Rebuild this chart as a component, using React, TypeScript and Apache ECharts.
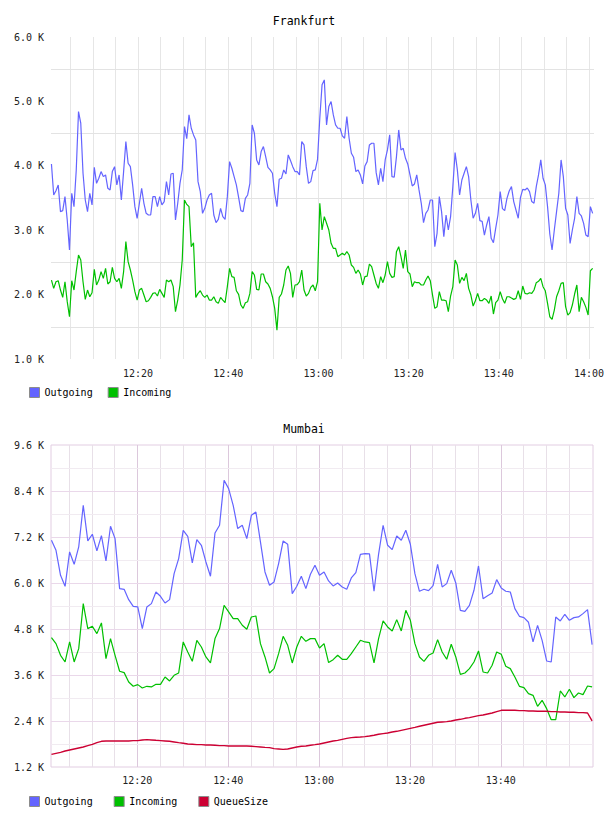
import React, { useEffect, useRef } from 'react';
import * as echarts from 'echarts';

const FONT = '"DejaVu Sans Mono", "Liberation Mono", monospace';

// ---- Frankfurt: one sample every 30 s, first at 12:00:48 (minutes after 12:00)
const frankfurtStart = 0.8;
const frankfurtStep = 0.5;
const frankfurtOutgoing = [
  4029, 3547, 3614, 3703, 3288, 3304, 3521, 3159, 2692, 3573,
  3366, 3936, 4842, 4661, 3884, 3469, 3288, 3573, 3392, 3977,
  3728, 3806, 3910, 3832, 3858, 3651, 3625, 3910, 3987, 3703,
  3858, 3469, 3910, 4376, 4039, 3987, 3703, 3366, 3185, 3418,
  3651, 3418, 3262, 3236, 3236, 3521, 3521, 3366, 3521, 3392,
  3444, 3754, 3547, 3873, 3884, 3159, 3418, 3728, 3936, 4609,
  4420, 4790, 4583, 4480, 4402, 3754, 3599, 3262, 3340, 3469,
  3547, 3573, 3236, 3117, 3169, 3340, 3210, 3169, 3521, 4065,
  3962, 3832, 3703, 3511, 3304, 3288, 3495, 3547, 3728, 4635,
  4505, 4091, 4013, 4221, 4298, 4143, 3977, 3936, 3884, 3573,
  3366, 3791, 3806, 3936, 3873, 4169, 4081, 3987, 3910, 3910,
  3858, 4376, 4324, 3987, 3728, 3754, 3925, 3936, 4101, 4739,
  5257, 5334, 4635, 4920, 4998, 4790, 4635, 4583, 4583, 4464,
  4428, 4764, 4428, 4195, 4132, 3910, 3936, 3858, 3718, 3998,
  4065, 4324, 4350, 4350, 3894, 3703, 3962, 3754, 4091, 4246,
  4480, 3832, 3822, 4143, 4557, 4246, 4272, 4117, 4029, 3858,
  3687, 3718, 3858, 3625, 3418, 3117, 3262, 3314, 3469, 3469,
  2744, 2951, 3521, 3288, 2900, 3236, 3003, 3210, 3677, 4205,
  3936, 3547, 3780, 3884, 3987, 3832, 3469, 3185, 3262, 3418,
  3148, 3138, 2925, 3081, 3210, 2874, 2806, 3029, 3236, 3599,
  3335, 3304, 3495, 3609, 3677, 3444, 3314, 3185, 3511, 3635,
  3625, 3656, 3599, 3444, 3418, 3677, 3858, 4091, 3806, 3703,
  3366, 2941, 2692, 3003, 3288, 3573, 4091, 3832, 3340, 3236,
  2796, 3003, 3185, 3521, 3262, 3221, 3107, 2925, 2900, 3366, 3262,
];
const frankfurtIncoming = [
  2226, 2097, 2200, 2216, 2071, 1957, 2200, 1890, 1656, 2216,
  2071, 2356, 2615, 2537, 2200, 1926, 2071, 1967, 2029, 2392,
  2149, 2226, 2356, 2252, 2407, 2164, 2200, 2423, 2252, 2200,
  2252, 2097, 2356, 2822, 2511, 2382, 2226, 2045, 1915, 2071,
  2097, 1993, 1890, 1905, 1957, 2019, 2029, 1978, 2081, 2019,
  1957, 2226, 2200, 2226, 2123, 1734, 1915, 2149, 2537, 3469,
  3400, 3366, 2744, 2806, 1957, 2019, 2060, 1993, 1957, 1993,
  1915, 1915, 1967, 1890, 1864, 1957, 1915, 1874, 2123, 2407,
  2278, 2268, 2060, 2003, 1838, 1786, 1874, 1890, 2019, 2356,
  2304, 2081, 2071, 2320, 2320, 2200, 2164, 2097, 1967, 1786,
  1449, 1957, 2009, 2149, 2382, 2444, 2330, 1957, 2149, 2154,
  2200, 2382, 2071, 1978, 2019, 2112, 2149, 2060, 2200, 3418,
  3003, 3210, 3107, 3003, 2796, 2718, 2718, 2589, 2615, 2641,
  2615, 2667, 2615, 2459, 2423, 2330, 2382, 2320, 2149, 2278,
  2288, 2475, 2433, 2304, 2174, 2097, 2278, 2185, 2304, 2511,
  2330, 2268, 2278, 2667, 2744, 2589, 2407, 2692, 2356, 2320,
  2123, 2200, 2185, 2185, 2149, 2149, 2226, 2288, 2216, 1993,
  1786, 1812, 2045, 1915, 1915, 1905, 1734, 1978, 2123, 2537,
  2459, 2174, 2268, 2216, 2330, 2097, 1993, 1822, 1905, 2019,
  1905, 1905, 1941, 1915, 1864, 1978, 1698, 1874, 1915, 2045,
  1936, 1864, 1967, 1967, 1946, 1926, 1941, 2060, 1926, 2133,
  2019, 2009, 2029, 2019, 2071, 2185, 2206, 2252, 2123, 2060,
  1864, 1656, 1615, 1760, 1967, 2060, 2174, 2185, 1812, 1682,
  1719, 1838, 2009, 2149, 1734, 1957, 1890, 1802, 1682, 2371, 2407,
];

// ---- Mumbai: one sample per minute, first at 12:01:06
const mumbaiStart = 1.1;
const mumbaiStep = 1;
const mumbaiOutgoing = [
  7114, 6853, 6201, 5914, 6810, 6488, 6940, 8027, 7097, 7271,
  6836, 7236, 6575, 7480, 7158, 5853, 5836, 5566, 5392, 5375,
  4809, 5375, 5462, 5766, 5653, 5479, 5566, 6244, 6636, 7375,
  7219, 6523, 7132, 6984, 6549, 6175, 7306, 7506, 8682, 8462,
  8027, 7419, 7506, 7158, 7767, 7853, 7071, 6288, 5940, 6027,
  6506, 7097, 7010, 5723, 5914, 6175, 5853, 6227, 6462, 6201,
  6288, 6053, 5923, 6001, 5897, 5836, 6131, 6270, 6749, 6766,
  6758, 5784, 6749, 7506, 6984, 6871, 7227, 7114, 7375, 7010,
  6244, 5784, 5836, 5801, 5931, 6488, 5897, 5984, 6331, 6001,
  5288, 5262, 5418, 5810, 6444, 5592, 5670, 5740, 6088, 5871,
  5784, 5766, 5331, 5131, 5097, 4975, 4462, 4896, 4505, 3966,
  3940, 5114, 5010, 5184, 5027, 5097, 5114, 5201, 5305, 4392,
];
const mumbaiIncoming = [
  4575, 4418, 4114, 3940, 4462, 3940, 4288, 5462, 4810, 4871,
  4679, 4958, 4027, 4549, 4114, 3697, 3662, 3418, 3305, 3349,
  3262, 3305, 3288, 3357, 3357, 3549, 3444, 3592, 3653, 4462,
  4201, 3957, 4505, 4331, 4071, 3914, 4549, 4810, 5419, 5245,
  5071, 5071, 4897, 4792, 5114, 5140, 4418, 4071, 3653, 3766,
  4157, 4610, 4375, 3914, 4331, 4610, 4479, 4549, 4549, 4305,
  4418, 3923, 4001, 4114, 4010, 4010, 4157, 4331, 4505, 4462,
  4444, 3914, 4549, 5010, 4853, 4749, 5045, 4749, 5288, 5027,
  4418, 4071, 3957, 4114, 4175, 4523, 4201, 4010, 4401, 4071,
  3618, 3653, 3766, 3940, 4227, 3679, 3653, 3853, 4201, 4140,
  3827, 3766, 3549, 3305, 3270, 3114, 3070, 2783, 2940, 2722,
  2435, 2435, 3183, 3027, 3227, 3009, 3131, 3088, 3314, 3288,
];
const mumbaiQueueSize = [
  1531, 1557, 1583, 1618, 1644, 1670, 1696, 1722, 1757, 1792,
  1835, 1870, 1879, 1879, 1879, 1879, 1879, 1879, 1888, 1888,
  1905, 1914, 1905, 1896, 1888, 1879, 1870, 1853, 1835, 1818,
  1801, 1792, 1783, 1783, 1775, 1775, 1766, 1757, 1757, 1748,
  1748, 1748, 1748, 1748, 1740, 1731, 1722, 1713, 1705, 1679,
  1670, 1661, 1670, 1696, 1722, 1740, 1748, 1766, 1783, 1801,
  1827, 1853, 1879, 1896, 1922, 1948, 1966, 1975, 1983, 1992,
  2009, 2027, 2053, 2071, 2088, 2114, 2131, 2157, 2183, 2209,
  2235, 2262, 2288, 2314, 2340, 2366, 2375, 2383, 2401, 2427,
  2444, 2470, 2488, 2514, 2540, 2557, 2583, 2609, 2644, 2679,
  2679, 2679, 2679, 2670, 2670, 2662, 2662, 2653, 2653, 2653,
  2644, 2644, 2636, 2636, 2627, 2627, 2618, 2618, 2609, 2401,
];

// ---- axis ticks / grid positions (minutes after 12:00, values)
const frankfurtTimeLabels = [20, 40, 60, 80, 100, 120];
const mumbaiTimeLabels = [20, 40, 60, 80, 100];
const frankfurtGridMinutes = [5, 10, 15, 20, 25, 30, 35, 40, 45, 50, 55, 60, 65, 70, 75, 80, 85, 90, 95, 100, 105, 110, 115, 120];
const frankfurtGridLevels = [1500, 2500, 3500, 4500, 5500];
const mumbaiMinorMinutes = [5, 10, 15, 25, 30, 35, 45, 50, 55, 65, 70, 75, 85, 90, 95, 105, 110, 115];
const mumbaiMajorMinutes = [20, 40, 60, 80, 100];
const mumbaiMinorLevels = [1800, 3000, 4200, 5400, 6600, 7800, 9000];
const mumbaiMajorLevels = [2400, 3600, 4800, 6000, 7200, 8400];

const COLORS = { Outgoing: '#6464ff', Incoming: '#00c000', QueueSize: '#cc0033' };

const toPairs = (values: number[], start: number, step: number) =>
  values.map((v, i) => [start + i * step, v]);

const timeLabel = (m: number) => {
  const total = 12 * 60 + Math.round(m);
  const h = Math.floor(total / 60);
  const mm = total % 60;
  return `${h}:${String(mm).padStart(2, '0')}`;
};
const kLabel = (v: number) => `${(v / 1000).toFixed(1)} K`;

const axisText = { fontFamily: FONT, fontSize: 10, color: '#222' };

function lineSeries(name: string, data: number[][], gi: number, width = 1.2) {
  return {
    type: 'line',
    name,
    xAxisIndex: gi,
    yAxisIndex: gi,
    data,
    showSymbol: false,
    symbol: 'none',
    silent: true,
    z: 3,
    itemStyle: { color: COLORS[name as keyof typeof COLORS] },
    lineStyle: { color: COLORS[name as keyof typeof COLORS], width },
  };
}

function gridSeries(gi: number, items: any[]) {
  return {
    type: 'line',
    name: `grid${gi}`,
    xAxisIndex: gi,
    yAxisIndex: gi,
    data: [],
    silent: true,
    markLine: {
      silent: true,
      z: 1,
      symbol: ['none', 'none'],
      label: { show: false },
      emphasis: { disabled: true },
      lineStyle: { type: 'solid', width: 1 },
      data: items,
    },
  };
}

export default function App() {
  const ref = useRef<HTMLDivElement>(null);
  useEffect(() => {
    if (!ref.current) return;
    const chart = echarts.init(ref.current, null, { renderer: 'svg' });
    const titleStyle = { fontFamily: FONT, fontSize: 11.5, fontWeight: 'normal', color: '#000' };
    const legendBase = {
      left: 24,
      itemWidth: 10,
      itemHeight: 10,
      icon: 'rect',
      selectedMode: false,
      itemStyle: { borderColor: '#8c8c8c', borderWidth: 1 },
      textStyle: { fontFamily: FONT, fontSize: 10, color: '#000', padding: [0, 0, 0, 0] },
    };
    const topGrid = [
      ...frankfurtGridMinutes.map((m) => ({ xAxis: m, lineStyle: { color: '#e6e6e6' } })),
      ...frankfurtGridLevels.map((v) => ({ yAxis: v, lineStyle: { color: '#e3e3e3' } })),
    ];
    const bottomGrid = [
      ...mumbaiMinorMinutes.map((m) => ({ xAxis: m, lineStyle: { color: '#e8e0e8' } })),
      ...mumbaiMajorMinutes.map((m) => ({ xAxis: m, lineStyle: { color: '#dcc8dc' } })),
      ...mumbaiMinorLevels.map((v) => ({ yAxis: v, lineStyle: { color: '#f1ebf1' } })),
      ...mumbaiMajorLevels.map((v) => ({ yAxis: v, lineStyle: { color: '#ead8ea' } })),
    ];
    const option = {
      animation: false,
      textStyle: { fontFamily: FONT },
      title: [
        { text: 'Frankfurt', left: 'center', top: 10, textStyle: titleStyle },
        { text: 'Mumbai', left: 'center', top: 418, textStyle: titleStyle },
      ],
      legend: [
        { ...legendBase, data: ['Outgoing', 'Incoming'], top: 382, itemGap: 15 },
        { ...legendBase, data: ['Outgoing', 'Incoming', 'QueueSize'], top: 791, itemGap: 21 },
      ],
      grid: [
        { left: 51, right: 14, top: 37, height: 322 },
        { left: 51, right: 15, top: 445, height: 322, show: true, borderColor: '#e2cde2', borderWidth: 1, backgroundColor: 'transparent' },
      ],
      xAxis: [
        {
          type: 'value', gridIndex: 0, min: 0.7, max: 121.1,
          axisLine: { show: false }, axisTick: { show: false }, splitLine: { show: false },
          axisLabel: { ...axisText, customValues: frankfurtTimeLabels, formatter: timeLabel, margin: 9 },
        },
        {
          type: 'value', gridIndex: 1, min: 1.0, max: 120.3,
          axisLine: { show: false }, axisTick: { show: false }, splitLine: { show: false },
          axisLabel: { ...axisText, customValues: mumbaiTimeLabels, formatter: timeLabel, margin: 8 },
        },
      ],
      yAxis: [
        {
          type: 'value', gridIndex: 0, min: 1000, max: 6000, interval: 1000,
          axisLine: { show: false }, axisTick: { show: false }, splitLine: { show: false },
          axisLabel: { ...axisText, formatter: kLabel, margin: 7 },
        },
        {
          type: 'value', gridIndex: 1, min: 1200, max: 9600, interval: 1200,
          axisLine: { show: false }, axisTick: { show: false }, splitLine: { show: false },
          axisLabel: { ...axisText, formatter: kLabel, margin: 7 },
        },
      ],
      series: [
        gridSeries(0, topGrid),
        gridSeries(1, bottomGrid),
        lineSeries('Outgoing', toPairs(frankfurtOutgoing, frankfurtStart, frankfurtStep), 0),
        lineSeries('Incoming', toPairs(frankfurtIncoming, frankfurtStart, frankfurtStep), 0),
        lineSeries('Outgoing', toPairs(mumbaiOutgoing, mumbaiStart, mumbaiStep), 1),
        lineSeries('Incoming', toPairs(mumbaiIncoming, mumbaiStart, mumbaiStep), 1),
        lineSeries('QueueSize', toPairs(mumbaiQueueSize, mumbaiStart, mumbaiStep), 1, 1.4),
      ],
    };
    chart.setOption(option as any);
    return () => chart.dispose();
  }, []);
  return (
    <div
      ref={ref}
      style={{ position: 'absolute', left: 0, top: 0, width: 608, height: 816, background: '#fff' }}
    />
  );
}
